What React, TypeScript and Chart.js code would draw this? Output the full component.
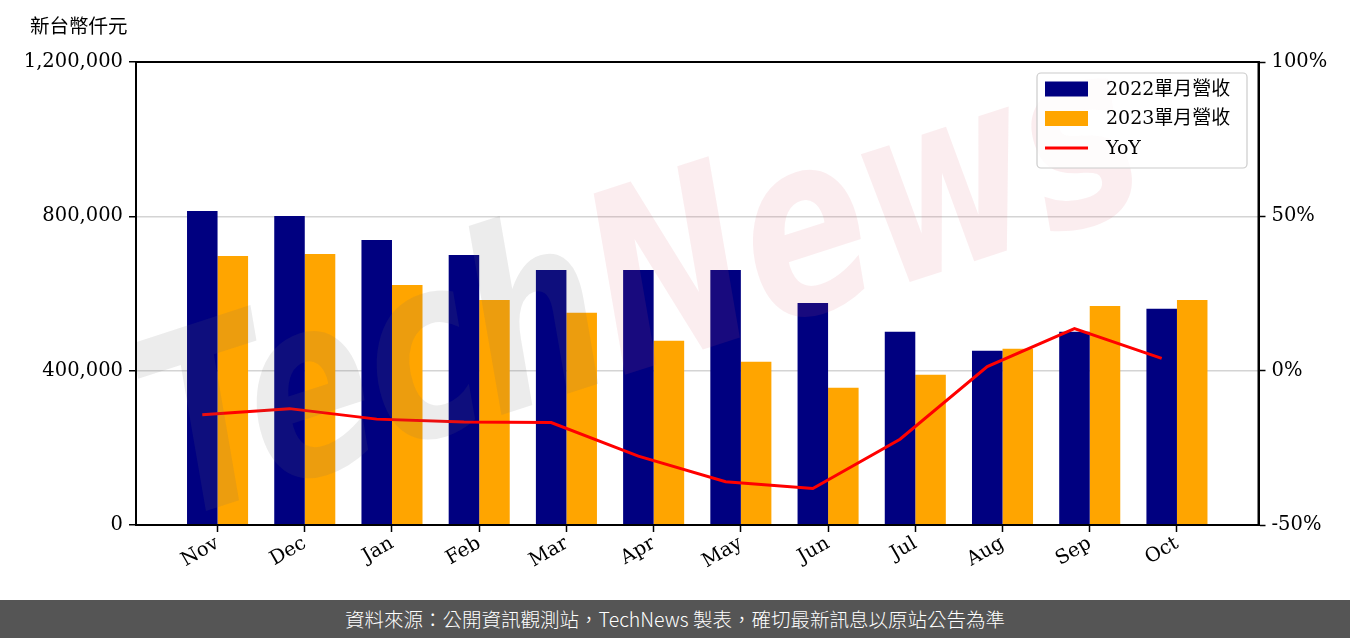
import { useEffect, useRef } from 'react';
import { Chart, registerables } from 'chart.js';

Chart.register(...registerables);

const months = ['Nov', 'Dec', 'Jan', 'Feb', 'Mar', 'Apr', 'May', 'Jun', 'Jul', 'Aug', 'Sep', 'Oct'];
const revenue2022 = [813700, 800800, 738700, 699900, 661000, 661000, 661000, 575700, 500600, 451500, 500600, 560200];
const revenue2023 = [697300, 702500, 622300, 583400, 549800, 477400, 423000, 355800, 389400, 456700, 567900, 583400];
const yoyPct = [-14.3, -12.3, -15.7, -16.6, -16.8, -27.7, -36.0, -38.2, -22.2, 1.3, 13.6, 4.0];
const leftTicks = [0, 400000, 800000, 1200000];
const rightTicks = [-50, 0, 50, 100];
const seriesLabels = ['2022單月營收', '2023單月營收', 'YoY'];
const unitLabel = '新台幣仟元';
const footerText = '資料來源：公開資訊觀測站，TechNews 製表，確切最新訊息以原站公告為準';
const watermarkParts = ['Tech', 'News'];

const BAR_W = 0.35;
const NAVY = '#000080';
const ORANGE = '#FFA500';
const RED = '#FF0000';
const FONT_FAMILY = '"DejaVu Serif", "Noto Sans CJK TC", serif';
const tickFont = { family: FONT_FAMILY, size: 19.5 };

export default function App() {
  const canvasRef = useRef<HTMLCanvasElement | null>(null);

  useEffect(() => {
    const canvas = canvasRef.current;
    if (!canvas) return;

    const overlayPlugin = {
      id: 'overlay',
      afterDatasetsDraw(chart: any) {
        const { ctx, chartArea } = chart;
        const { left, right, top, bottom } = chartArea;
        // watermark
        ctx.save();
        ctx.beginPath();
        ctx.rect(left, top, right - left, bottom - top);
        ctx.clip();
        ctx.translate(645, 300);
        ctx.rotate((-18 * Math.PI) / 180);
        ctx.scale(1, 1.35);
        ctx.font = 'italic bold 185px "DejaVu Sans"';
        ctx.textBaseline = 'middle';
        ctx.textAlign = 'left';
        const wT = ctx.measureText(watermarkParts[0]).width;
        const wN = ctx.measureText(watermarkParts[1]).width;
        const start = -(wT + wN) / 2;
        ctx.fillStyle = 'rgba(110,110,110,0.13)';
        ctx.fillText(watermarkParts[0], start, 0);
        ctx.fillStyle = 'rgba(215,90,110,0.11)';
        ctx.fillText(watermarkParts[1], start + wT, 0);
        ctx.restore();

        // frame
        ctx.save();
        ctx.strokeStyle = '#000';
        ctx.lineWidth = 2;
        ctx.strokeRect(left, top, right - left, bottom - top);
        ctx.restore();
      },
      afterDraw(chart: any) {
        const { ctx, chartArea } = chart;
        // unit label
        ctx.save();
        ctx.fillStyle = '#000';
        ctx.font = `19.5px ${FONT_FAMILY}`;
        ctx.textBaseline = 'middle';
        ctx.textAlign = 'left';
        ctx.fillText(unitLabel, 30, 28);
        ctx.restore();

        // legend
        const bw = 210;
        const bh = 95;
        const bx = chartArea.right - 11.5 - bw;
        const by = chartArea.top + 11;
        ctx.save();
        ctx.beginPath();
        if ((ctx as any).roundRect) (ctx as any).roundRect(bx, by, bw, bh, 4);
        else ctx.rect(bx, by, bw, bh);
        ctx.fillStyle = 'rgba(255,255,255,0.8)';
        ctx.fill();
        ctx.strokeStyle = '#cccccc';
        ctx.lineWidth = 1.2;
        ctx.stroke();
        const colors = [NAVY, ORANGE, RED];
        const rows = [by + 16, by + 45.5, by + 75];
        ctx.font = `19px ${FONT_FAMILY}`;
        ctx.textBaseline = 'middle';
        ctx.textAlign = 'left';
        seriesLabels.forEach((lab, i) => {
          const cy = rows[i];
          if (i < 2) {
            ctx.fillStyle = colors[i];
            ctx.fillRect(bx + 8, cy - 7.5, 43, 15);
          } else {
            ctx.strokeStyle = colors[i];
            ctx.lineWidth = 3;
            ctx.beginPath();
            ctx.moveTo(bx + 8, cy);
            ctx.lineTo(bx + 51, cy);
            ctx.stroke();
          }
          ctx.fillStyle = '#000';
          ctx.fillText(lab, bx + 69, cy + 1);
        });
        ctx.restore();
      },
    };

    const chart = new Chart(canvas, {
      type: 'bar',
      data: {
        datasets: [
          {
            type: 'line',
            label: seriesLabels[2],
            data: yoyPct.map((v, i) => ({ x: i - BAR_W / 2, y: v })),
            borderColor: RED,
            backgroundColor: RED,
            borderWidth: 3,
            pointRadius: 0,
            tension: 0,
            yAxisID: 'y1',
            xAxisID: 'x',
            order: 0,
          } as any,
          {
            type: 'bar',
            label: seriesLabels[0],
            data: revenue2022.map((v, i) => ({ x: i, y: v })),
            backgroundColor: NAVY,
            borderWidth: 0,
            yAxisID: 'y',
            xAxisID: 'x',
            order: 1,
            categoryPercentage: 0.7,
            barPercentage: 1.0,
          },
          {
            type: 'bar',
            label: seriesLabels[1],
            data: revenue2023.map((v, i) => ({ x: i, y: v })),
            backgroundColor: ORANGE,
            borderWidth: 0,
            yAxisID: 'y',
            xAxisID: 'x',
            order: 1,
            categoryPercentage: 0.7,
            barPercentage: 1.0,
          },
        ],
      },
      options: {
        animation: false,
        responsive: false,
        maintainAspectRatio: false,
        layout: { padding: { top: 62, left: 0, right: 0, bottom: 0 } },
        plugins: {
          legend: { display: false },
          tooltip: { enabled: false },
          title: { display: false },
        },
        scales: {
          x: {
            type: 'linear',
            min: -0.935,
            max: 11.935,
            offset: false,
            afterBuildTicks: (s: any) => {
              s.ticks = months.map((_, i) => ({ value: i }));
            },
            ticks: {
              autoSkip: false,
              maxRotation: 30,
              minRotation: 30,
              color: '#000',
              font: tickFont,
              padding: 0,
              callback: (v: any) => months[Math.round(Number(v))] ?? '',
            },
            grid: { offset: false, drawOnChartArea: false, tickLength: 7, tickColor: '#000', tickWidth: 1.5 },
            border: { color: '#000', width: 2 },
            afterFit: (s: any) => {
              s.height = 75;
            },
          },
          y: {
            type: 'linear',
            position: 'left',
            min: 0,
            max: 1200000,
            afterBuildTicks: (s: any) => {
              s.ticks = leftTicks.map((v) => ({ value: v }));
            },
            ticks: {
              color: '#000',
              font: tickFont,
              padding: 6,
              callback: (v: any) => Number(v).toLocaleString('en-US'),
            },
            grid: { color: '#d4d4d4', lineWidth: 1.5, tickColor: '#000', tickLength: 7, tickWidth: 1.5 },
            border: { color: '#000', width: 2 },
            afterFit: (s: any) => {
              s.width = 136;
            },
          },
          y1: {
            type: 'linear',
            position: 'right',
            min: -50,
            max: 100,
            afterBuildTicks: (s: any) => {
              s.ticks = rightTicks.map((v) => ({ value: v }));
            },
            ticks: {
              color: '#000',
              font: tickFont,
              padding: 6,
              callback: (v: any) => `${v}%`,
            },
            grid: { drawOnChartArea: false, tickColor: '#000', tickLength: 7, tickWidth: 1.5 },
            border: { color: '#000', width: 2 },
            afterFit: (s: any) => {
              s.width = 91.5;
            },
          },
        },
      },
      plugins: [overlayPlugin],
    });

    return () => {
      chart.destroy();
    };
  }, []);

  return (
    <div
      style={{
        position: 'fixed',
        top: 0,
        left: 0,
        width: 1350,
        height: 638,
        background: '#fff',
        overflow: 'hidden',
      }}
    >
      <canvas ref={canvasRef} width={1350} height={600} style={{ display: 'block', width: 1350, height: 600 }} />
      <div
        style={{
          position: 'absolute',
          top: 600,
          left: 0,
          width: 1350,
          height: 38,
          background: '#555555',
          color: '#fff',
          fontFamily: '"Noto Sans CJK TC", sans-serif',
          fontSize: 19.5,
          fontWeight: 300,
          lineHeight: '38px',
          textAlign: 'center',
          whiteSpace: 'nowrap',
        }}
      >
        {footerText}
      </div>
    </div>
  );
}
